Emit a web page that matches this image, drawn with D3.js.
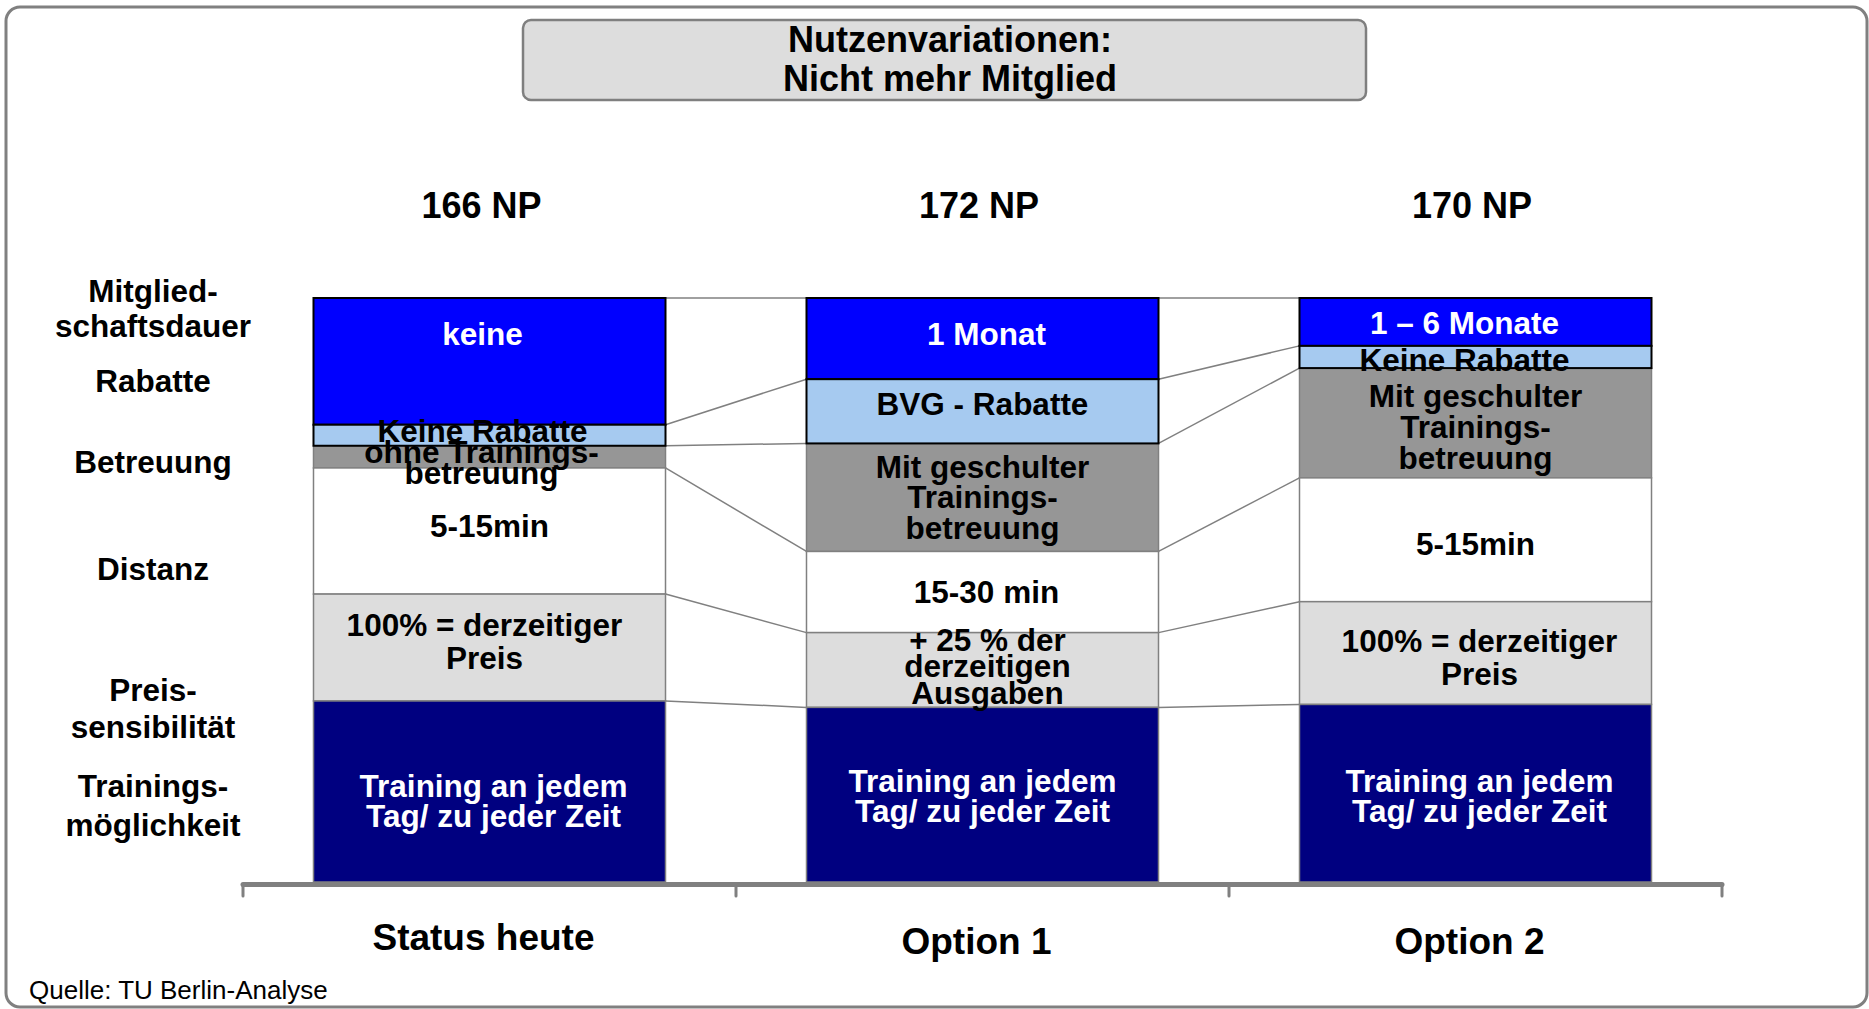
<!DOCTYPE html>
<html>
<head>
<meta charset="utf-8">
<script src="https://cdn.jsdelivr.net/npm/d3@7"></script>
<style>
  body { margin: 0; background: #fff; }
  svg { display: block; }
</style>
</head>
<body>
<div id="chart"></div>
<script>
// --- data ---
const categories = ['Status heute', 'Option 1', 'Option 2'];
const npScores = [166, 172, 170];
const attributes = ['Mitgliedschaftsdauer', 'Rabatte', 'Betreuung', 'Distanz', 'Preissensibilität', 'Trainingsmöglichkeit'];
const rowLabels = [['Mitglied-', 'schaftsdauer'], ['Rabatte'], ['Betreuung'], ['Distanz'], ['Preis-', 'sensibilität'], ['Trainings-', 'möglichkeit']];

// share of the bar height per attribute (%), top to bottom
const statusShares = [21.7, 3.6, 3.8, 21.6, 18.3, 31.0];
const option1Shares = [13.9, 11.0, 18.5, 13.9, 12.8, 29.9];
const option2Shares = [8.2, 3.8, 18.8, 21.2, 17.6, 30.4];

const statusTexts = ['keine', 'Keine Rabatte', 'ohne Trainings-\nbetreuung', '5-15min', '100% = derzeitiger\nPreis', 'Training an jedem\nTag/ zu jeder Zeit'];
const option1Texts = ['1 Monat', 'BVG - Rabatte', 'Mit geschulter\nTrainings-\nbetreuung', '15-30 min', '+ 25 % der\nderzeitigen\nAusgaben', 'Training an jedem\nTag/ zu jeder Zeit'];
const option2Texts = ['1 – 6 Monate', 'Keine Rabatte', 'Mit geschulter\nTrainings-\nbetreuung', '5-15min', '100% = derzeitiger\nPreis', 'Training an jedem\nTag/ zu jeder Zeit'];

const shares = [statusShares, option1Shares, option2Shares];
const texts = [statusTexts, option1Texts, option2Texts];

// --- layout (text boxes in the original slide are not exactly centred) ---
const labelNudge = [[-27.5, -4.5, 5.5, -5, -6, 9.5], [-4.5, -7, 0, -0.5, -3.8, 1.5], [1, 3, 4, 4, 4, 2.5]];
const labelShiftX = [[-7, -7, -8, 0, -5, 4], [4, 0, 0, 4, 5, 0], [-11, -11, 0, 0, 4, 4]];
const labelLineHeight = [[31, 31, 21, 31, 33, 30], [31, 31, 30.5, 31, 26.5, 30], [31, 31, 31, 31, 33, 30]];
const npShiftX = [-8, -3.5, -3.5];
const rowLabelBaseline = [302, 392, 473, 580, 701, 797];
const rowLabelGap = [35, 0, 0, 0, 37, 39];

const fills = ['#0000ff', '#a6caf0', '#969696', '#ffffff', '#dddddd', '#000080'];
const textColors = ['#fff', '#000', '#000', '#000', '#000', '#fff'];
const font = '"Liberation Sans", Arial, sans-serif';

const width = 1869, height = 1009;
const svg = d3.select('#chart').append('svg')
    .attr('width', width)
    .attr('height', height);

// outer frame
svg.append('rect')
    .attr('x', 6).attr('y', 7)
    .attr('width', 1861).attr('height', 1000)
    .attr('rx', 14)
    .attr('fill', 'none')
    .attr('stroke', '#808080')
    .attr('stroke-width', 3);

// title box
svg.append('rect')
    .attr('x', 523).attr('y', 20)
    .attr('width', 843).attr('height', 80)
    .attr('rx', 8)
    .attr('fill', '#dddddd')
    .attr('stroke', '#7f7f7f')
    .attr('stroke-width', 2.5);

svg.append('text')
    .attr('font-family', font)
    .attr('font-weight', 'bold')
    .attr('font-size', 36)
    .attr('text-anchor', 'middle')
    .selectAll('tspan')
    .data(['Nutzenvariationen:', 'Nicht mehr Mitglied'])
    .join('tspan')
    .attr('x', 950)
    .attr('y', (d, i) => 52 + i * 39)
    .text(d => d);

// scales
const x = d3.scaleBand()
    .domain(categories)
    .range([243, 1722])
    .paddingInner(0.286)
    .paddingOuter(0.143);

const y = d3.scaleLinear()
    .domain([0, 100])
    .range([298, 882]);

const bw = x.bandwidth();

// stacked segments: [start, end] per attribute per category
const stacks = shares.map(s => {
    const ends = d3.cumsum(s);
    return s.map((v, i) => [ends[i] - v, ends[i]]);
});

// connector lines between neighbouring bars
const connectors = [];
for (let c = 0; c < categories.length - 1; c++) {
    for (let k = 0; k < attributes.length; k++) {
        connectors.push({
            x1: x(categories[c]) + bw,
            y1: y(stacks[c][k][0]),
            x2: x(categories[c + 1]),
            y2: y(stacks[c + 1][k][0])
        });
    }
}
svg.append('g')
    .selectAll('line')
    .data(connectors)
    .join('line')
    .attr('x1', d => d.x1).attr('y1', d => d.y1)
    .attr('x2', d => d.x2).attr('y2', d => d.y2)
    .attr('stroke', '#808080')
    .attr('stroke-width', 1.5);

// bars
const cells = [];
categories.forEach((cat, c) => {
    attributes.forEach((a, k) => {
        cells.push({ c, k, cat, y0: stacks[c][k][0], y1: stacks[c][k][1] });
    });
});
// grey-bordered segments first, black-bordered (top two) on top
cells.sort((a, b) => (a.k < 2) - (b.k < 2));

svg.append('g')
    .selectAll('rect')
    .data(cells)
    .join('rect')
    .attr('x', d => x(d.cat))
    .attr('y', d => y(d.y0))
    .attr('width', bw)
    .attr('height', d => y(d.y1) - y(d.y0))
    .attr('fill', d => fills[d.k])
    .attr('stroke', d => d.k < 2 ? '#000' : '#808080')
    .attr('stroke-width', d => d.k < 2 ? 2 : 1.5);

// segment labels
const labelG = svg.append('g')
    .attr('font-family', font)
    .attr('font-weight', 'bold')
    .attr('font-size', 31.5)
    .attr('text-anchor', 'middle');

cells.forEach(d => {
    const lines = texts[d.c][d.k].split('\n');
    const lh = labelLineHeight[d.c][d.k];
    const mid = (y(d.y0) + y(d.y1)) / 2 + labelNudge[d.c][d.k];
    labelG.append('text')
        .attr('fill', textColors[d.k])
        .selectAll('tspan')
        .data(lines)
        .join('tspan')
        .attr('x', x(d.cat) + bw / 2 + labelShiftX[d.c][d.k])
        .attr('y', (t, i) => mid + 11 + (i - (lines.length - 1) / 2) * lh)
        .text(t => t);
});

// NP scores above the bars
svg.append('g')
    .selectAll('text')
    .data(categories)
    .join('text')
    .attr('x', (d, i) => x(d) + bw / 2 + npShiftX[i])
    .attr('y', 218)
    .attr('text-anchor', 'middle')
    .attr('font-family', font)
    .attr('font-weight', 'bold')
    .attr('font-size', 36)
    .text((d, i) => `${npScores[i]} NP`);

// row labels on the left
const rowG = svg.append('g')
    .attr('font-family', font)
    .attr('font-weight', 'bold')
    .attr('font-size', 31.5)
    .attr('text-anchor', 'middle');

rowLabels.forEach((lines, i) => {
    rowG.append('text')
        .selectAll('tspan')
        .data(lines)
        .join('tspan')
        .attr('x', 153)
        .attr('y', (t, j) => rowLabelBaseline[i] + j * rowLabelGap[i])
        .text(t => t);
});

// category axis with ticks on band boundaries
const axisY = 884.5;
const [r0, r1] = x.range();
const axisG = svg.append('g').attr('stroke', '#808080');
axisG.append('line')
    .attr('x1', r0).attr('x2', r1)
    .attr('y1', axisY).attr('y2', axisY)
    .attr('stroke-width', 5)
    .attr('stroke-linecap', 'round');
axisG.selectAll('line.tick')
    .data(d3.range(categories.length + 1))
    .join('line')
    .attr('class', 'tick')
    .attr('x1', i => r0 + i * x.step())
    .attr('x2', i => r0 + i * x.step())
    .attr('y1', axisY)
    .attr('y2', 896)
    .attr('stroke-width', 3)
    .attr('stroke-linecap', 'round');

svg.append('g')
    .selectAll('text')
    .data(categories)
    .join('text')
    .attr('x', d => x(d) + bw / 2 - 6)
    .attr('y', (d, i) => i === 0 ? 950 : 954)
    .attr('text-anchor', 'middle')
    .attr('font-family', font)
    .attr('font-weight', 'bold')
    .attr('font-size', 37)
    .text(d => d);

// source note
svg.append('text')
    .attr('x', 29)
    .attr('y', 999)
    .attr('font-family', font)
    .attr('font-size', 26)
    .text('Quelle: TU Berlin-Analyse');
</script>
</body>
</html>
